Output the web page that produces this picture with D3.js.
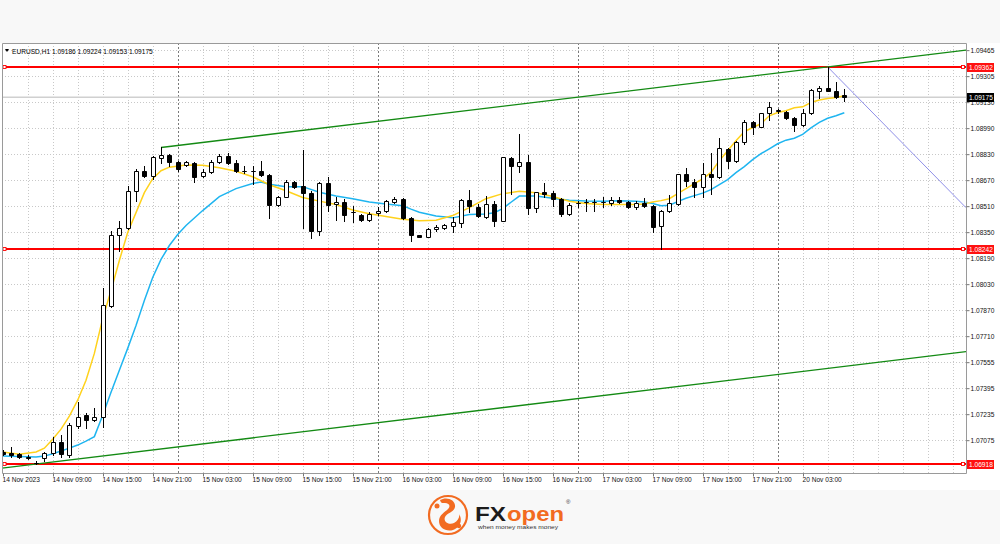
<!DOCTYPE html>
<html><head><meta charset="utf-8">
<script src="https://cdn.jsdelivr.net/npm/d3@7"></script>
<style>html,body{margin:0;padding:0;background:#f8f8f8;} svg{display:block;font-family:"Liberation Sans",Arial,sans-serif;}</style>
</head><body><svg id="c" width="1000" height="544"></svg>
<script>
// ---------- DATA ----------
const symbol = "EURUSD,H1";
const lastOHLC = [1.09186, 1.09224, 1.09153, 1.09175];
const opens = [1.06992,1.06985,1.06979,1.06961,1.06927,1.06953,1.06984,1.07055,1.06973,1.07151,
1.07219,1.07188,1.07208,1.07888,1.08328,1.08369,1.08596,1.08723,1.08693,1.08801,
1.08820,1.08774,1.08758,1.08771,1.08693,1.08713,1.08774,1.08815,1.08771,1.08723,
1.08723,1.08723,1.08699,1.08513,1.08564,1.08656,1.08631,1.08584,1.08355,1.08645,
1.08519,1.08533,1.08467,1.08453,1.08421,1.08461,1.08478,1.08533,1.08550,1.08433,
1.08328,1.08318,1.08363,1.08371,1.08381,1.08402,1.08543,1.08502,1.08441,1.08519,
1.08416,1.08801,1.08754,1.08774,1.08494,1.08590,1.08584,1.08550,1.08457,1.08523,
1.08529,1.08529,1.08529,1.08527,1.08543,1.08533,1.08498,1.08527,1.08505,1.08381,
1.08478,1.08519,1.08703,1.08656,1.08625,1.08703,1.08682,1.08857,1.08780,1.08897,
1.09024,1.08994,1.09078,1.09092,1.09087,1.09047,1.09006,1.09078,1.09215,1.09231,
1.09215,1.09186];
const highs = [1.07004,1.07024,1.06985,1.06973,1.06936,1.06993,1.07086,1.07096,1.07171,1.07300,
1.07233,1.07260,1.07999,1.08355,1.08416,1.08631,1.08734,1.08754,1.08815,1.08866,
1.08826,1.08785,1.08785,1.08774,1.08734,1.08789,1.08826,1.08830,1.08789,1.08754,
1.08754,1.08785,1.08702,1.08570,1.08666,1.08662,1.08849,1.08601,1.08651,1.08682,
1.08559,1.08550,1.08508,1.08457,1.08467,1.08502,1.08543,1.08559,1.08553,1.08441,
1.08330,1.08369,1.08390,1.08396,1.08437,1.08550,1.08605,1.08519,1.08570,1.08539,
1.08809,1.08805,1.08949,1.08822,1.08594,1.08645,1.08601,1.08556,1.08523,1.08539,
1.08550,1.08550,1.08559,1.08564,1.08559,1.08539,1.08539,1.08558,1.08515,1.08480,
1.08574,1.08705,1.08740,1.08672,1.08768,1.08830,1.08924,1.08863,1.08908,1.09035,
1.09030,1.09081,1.09143,1.09102,1.09092,1.09055,1.09102,1.09225,1.09245,1.09362,
1.09266,1.09224];
const lows = [1.06973,1.06963,1.06955,1.06949,1.06918,1.06938,1.06973,1.06963,1.06963,1.07143,
1.07143,1.07184,1.07147,1.07882,1.08232,1.08365,1.08539,1.08682,1.08672,1.08768,
1.08754,1.08723,1.08750,1.08651,1.08682,1.08707,1.08768,1.08764,1.08713,1.08707,
1.08642,1.08693,1.08433,1.08508,1.08559,1.08617,1.08373,1.08310,1.08330,1.08478,
1.08421,1.08416,1.08406,1.08416,1.08416,1.08451,1.08472,1.08523,1.08427,1.08293,
1.08314,1.08314,1.08355,1.08363,1.08344,1.08375,1.08467,1.08437,1.08433,1.08386,
1.08412,1.08580,1.08713,1.08457,1.08467,1.08559,1.08508,1.08447,1.08453,1.08502,
1.08478,1.08478,1.08502,1.08515,1.08527,1.08494,1.08488,1.08498,1.08344,1.08242,
1.08472,1.08515,1.08631,1.08564,1.08559,1.08580,1.08679,1.08740,1.08774,1.08887,
1.08949,1.08990,1.09037,1.09081,1.09041,1.08965,1.09000,1.09072,1.09170,1.09213,
1.09170,1.09153];
const closes = [1.06982,1.06973,1.06963,1.06958,1.06922,1.06987,1.07055,1.06979,1.07157,1.07208,
1.07192,1.07205,1.07894,1.08328,1.08369,1.08596,1.08723,1.08693,1.08809,1.08820,
1.08779,1.08734,1.08774,1.08686,1.08713,1.08779,1.08815,1.08771,1.08719,1.08720,
1.08720,1.08699,1.08513,1.08564,1.08656,1.08625,1.08584,1.08355,1.08645,1.08515,
1.08533,1.08451,1.08470,1.08421,1.08457,1.08478,1.08535,1.08550,1.08433,1.08330,
1.08318,1.08365,1.08379,1.08387,1.08406,1.08543,1.08504,1.08447,1.08519,1.08416,
1.08805,1.08754,1.08774,1.08494,1.08590,1.08580,1.08550,1.08457,1.08515,1.08524,
1.08530,1.08528,1.08530,1.08543,1.08531,1.08498,1.08523,1.08505,1.08379,1.08478,
1.08523,1.08703,1.08658,1.08625,1.08703,1.08686,1.08863,1.08780,1.08901,1.09024,
1.08994,1.09078,1.09116,1.09094,1.09047,1.09006,1.09081,1.09219,1.09231,1.09215,
1.09178,1.09175];
// fast (yellow) moving average: [bar index, value]
const maFast = [[0,1.06993],[2,1.06979],[4,1.06992],[5,1.07016],[6,1.07071],[7,1.07133],[8,1.07213],[9,1.07311],
[10,1.07434],[11,1.07599],[12,1.07814],[13,1.07986],[14,1.08171],[15,1.08343],[16,1.08465],[17,1.08588],
[18,1.08674],[19,1.08723],[20,1.08745],[22,1.08758],[24,1.08757],[26,1.08742],[28,1.08720],[30,1.08686],
[32,1.08637],[34,1.08600],[36,1.08558],[38,1.08536],[40,1.08515],[42,1.08481],[44,1.08459],[46,1.08441],
[48,1.08425],[50,1.08416],[52,1.08419],[54,1.08447],[56,1.08496],[58,1.08551],[60,1.08582],[62,1.08596],
[64,1.08588],[66,1.08564],[68,1.08535],[70,1.08521],[72,1.08515],[74,1.08515],[76,1.08515],[77,1.08518],
[78,1.08530],[79,1.08539],[80,1.08551],[81,1.08582],[82,1.08613],[83,1.08644],[84,1.08672],[85,1.08713],
[86,1.08785],[87,1.08846],[88,1.08908],[89,1.08963],[90,1.08989],[91,1.09012],[92,1.09061],[93,1.09081],
[94,1.09092],[95,1.09110],[96,1.09116],[97,1.09143],[98,1.09158],[99,1.09167],[100,1.09173],[101,1.09184]];
// slow (blue) moving average: [bar index, value]
const maSlow = [[0,1.06967],[2,1.06964],[4,1.06961],[5,1.06967],[6,1.06982],[7,1.06998],[8,1.07016],[9,1.07035],
[10,1.07059],[11,1.07087],[12,1.07219],[13,1.07360],[14,1.07495],[15,1.07630],[16,1.07771],[17,1.07925],
[18,1.08066],[19,1.08177],[20,1.08263],[21,1.08330],[22,1.08386],[24,1.08478],[26,1.08564],[28,1.08613],
[30,1.08644],[31,1.08653],[32,1.08640],[34,1.08625],[36,1.08625],[38,1.08591],[40,1.08567],[42,1.08550],
[44,1.08530],[46,1.08519],[48,1.08508],[49,1.08487],[50,1.08468],[52,1.08444],[54,1.08433],[56,1.08453],
[58,1.08457],[59,1.08465],[60,1.08490],[61,1.08529],[62,1.08567],[64,1.08567],[66,1.08554],[68,1.08542],
[70,1.08537],[72,1.08536],[74,1.08538],[76,1.08535],[77,1.08530],[78,1.08521],[79,1.08508],[80,1.08511],
[81,1.08533],[82,1.08554],[83,1.08570],[84,1.08585],[85,1.08607],[86,1.08637],[87,1.08668],[88,1.08711],
[89,1.08748],[90,1.08791],[91,1.08828],[92,1.08858],[93,1.08889],[94,1.08911],[95,1.08923],[96,1.08947],
[97,1.08987],[98,1.09021],[99,1.09046],[100,1.09061],[101,1.09080]];
const timeLabelIdx = [0,6,12,18,24,30,36,42,48,54,60,66,72,78,84,90,96];
const timeLabels = ["14 Nov 2023","14 Nov 09:00","14 Nov 15:00","14 Nov 21:00","15 Nov 03:00","15 Nov 09:00",
"15 Nov 15:00","15 Nov 21:00","16 Nov 03:00","16 Nov 09:00","16 Nov 15:00","16 Nov 21:00","17 Nov 03:00",
"17 Nov 09:00","17 Nov 15:00","17 Nov 21:00","20 Nov 03:00"];
const daySepIdx = [21,45,69,93];
const priceGrid = [1.09465,1.09305,1.09145,1.08985,1.08825,1.08665,1.08505,1.08345,1.08185,1.08025,1.07865,1.07705,1.07545,1.07385,1.07225,1.07065];
const priceLabels = ["1.09465","1.09305","1.09130","1.08990","1.08830","1.08670","1.08510","1.08350","1.08190","1.08030","1.07870","1.07710","1.07555","1.07395","1.07235","1.07075"];
const hLevels = [1.09362, 1.08242, 1.06918];
const hLevelLabels = ["1.09362","1.08242","1.06918"];
const channelTop = [[19,1.08866],[99,1.09362]];
const channelLowAnchor = [4,1.06918];
const downLine = [[99,1.09362],[115.6,1.08496]];

// ---------- LAYOUT ----------
const L = 2, R = 966, T = 43, B = 473.5;
const svg = d3.select("#c");
svg.append("rect").attr("x",0).attr("y",T).attr("width",1000).attr("height",490-T).attr("fill","#ffffff");

const x = d3.scaleLinear().domain([0,101]).range([2.7,844.3]);
const y = d3.scaleLinear().domain([1.06860,1.09509]).range([B,T]);
const font = 6.6;

svg.append("defs").append("clipPath").attr("id","clip").append("rect")
  .attr("x",L).attr("y",T).attr("width",R-L).attr("height",B-T);
const plot = svg.append("g").attr("clip-path","url(#clip)");

// grid
const gridIdx = d3.range(3,116,3);
plot.selectAll(".vg").data(gridIdx.filter(i=>!daySepIdx.includes(i))).join("line")
  .attr("x1",i=>Math.round(x(i))+0.5).attr("x2",i=>Math.round(x(i))+0.5)
  .attr("y1",T).attr("y2",B).attr("stroke","#c8c8c8").attr("stroke-dasharray","1,2");
plot.selectAll(".hg").data(priceGrid).join("line")
  .attr("x1",L).attr("x2",R).attr("y1",d=>Math.round(y(d))+0.5).attr("y2",d=>Math.round(y(d))+0.5)
  .attr("stroke","#c8c8c8").attr("stroke-dasharray","1,2");
plot.selectAll(".ds").data(daySepIdx).join("line")
  .attr("x1",i=>Math.round(x(i))+0.5).attr("x2",i=>Math.round(x(i))+0.5)
  .attr("y1",T).attr("y2",B).attr("stroke","#7a7a7a").attr("stroke-dasharray","2,2");

// current price line
plot.append("line").attr("x1",L).attr("x2",R)
  .attr("y1",y(lastOHLC[3])).attr("y2",y(lastOHLC[3])).attr("stroke","#d0d0d0").attr("stroke-width",1.5);

// horizontal levels
hLevels.forEach(v=>{
  const yy = Math.round(y(v));
  plot.append("line").attr("x1",L).attr("x2",R).attr("y1",yy).attr("y2",yy).attr("stroke","#ff0000").attr("stroke-width",1.8);
  [L+2.5, R-3].forEach(px=>plot.append("rect").attr("x",px-1.5).attr("y",yy-1.5).attr("width",3).attr("height",3)
     .attr("fill","#fff").attr("stroke","#ff0000").attr("stroke-width",0.9));
});

// trend channel
const slope = (channelTop[1][1]-channelTop[0][1])/(channelTop[1][0]-channelTop[0][0]);
const iR = x.invert(R), iL = x.invert(L);
plot.append("line").attr("x1",x(channelTop[0][0])).attr("y1",y(channelTop[0][1]))
  .attr("x2",x(iR)).attr("y2",y(channelTop[0][1]+slope*(iR-channelTop[0][0])))
  .attr("stroke","#138a13").attr("stroke-width",1.3);
plot.append("line").attr("x1",x(iL)).attr("y1",y(channelLowAnchor[1]+slope*(iL-channelLowAnchor[0])))
  .attr("x2",x(iR)).attr("y2",y(channelLowAnchor[1]+slope*(iR-channelLowAnchor[0])))
  .attr("stroke","#138a13").attr("stroke-width",1.3);
plot.append("line").attr("x1",x(downLine[0][0])).attr("y1",y(downLine[0][1]))
  .attr("x2",x(downLine[1][0])).attr("y2",y(downLine[1][1]))
  .attr("stroke","#8f8fe8").attr("stroke-width",1);

// moving averages
const line = d3.line().x(d=>x(d[0])).y(d=>y(d[1]));
plot.append("path").attr("d",line(maSlow)).attr("fill","none").attr("stroke","#1fb5f0").attr("stroke-width",1.5);
plot.append("path").attr("d",line(maFast)).attr("fill","none").attr("stroke","#ffd21c").attr("stroke-width",1.5);

// candles
const bars = d3.range(opens.length).map(i=>({i,o:opens[i],h:highs[i],l:lows[i],c:closes[i]}));
const cg = plot.append("g");
bars.forEach(b=>{
  const c = Math.round(x(b.i));
  cg.append("line").attr("x1",c+0.5).attr("x2",c+0.5).attr("y1",Math.round(y(b.h))).attr("y2",Math.round(y(b.l))+1)
    .attr("stroke","#000").attr("stroke-width",1);
  const t = Math.round(y(Math.max(b.o,b.c)))+0.5, bt = Math.round(y(Math.min(b.o,b.c)))+0.5;
  const bull = b.c>b.o;
  cg.append("path").attr("d",`M${c-1.5},${t}H${c+2.5}V${bt}H${c-1.5}Z`)
    .attr("fill",bull?"#fff":"#000").attr("stroke","#000").attr("stroke-width",1);
});

// frame
svg.append("path").attr("d",`M${L+0.5},${T+0.5}H${R+0.5}V${B}H${L+0.5}Z`).attr("fill","none").attr("stroke","#9a9a9a").attr("stroke-width",1);

// header
svg.append("path").attr("d","M5,49L9,49L7,52Z").attr("fill","#000");
svg.append("text").attr("x",12).attr("y",53.5).attr("font-size",font).attr("fill","#000")
  .text(symbol+"  "+lastOHLC.map(v=>v.toFixed(5)).join(" "));

// axes
const ya = svg.append("g").attr("transform",`translate(${R+0.5},0)`)
  .call(d3.axisRight(y).tickValues(priceGrid).tickFormat((d,i)=>priceLabels[i]).tickSize(3).tickPadding(1));
ya.select(".domain").remove();
ya.selectAll("text").attr("font-size",font).attr("font-family","Liberation Sans, Arial, sans-serif").attr("fill","#111");
ya.selectAll("line").attr("stroke","#777");

const xa = svg.append("g").attr("transform",`translate(0,${B})`)
  .call(d3.axisBottom(x).tickValues(timeLabelIdx).tickFormat((d,i)=>timeLabels[i]).tickSize(3).tickPadding(1));
xa.select(".domain").remove();
xa.selectAll(".tick").attr("transform",d=>`translate(${Math.round(x(d))+0.5},0)`);
xa.selectAll("text").attr("font-size",font).attr("font-family","Liberation Sans, Arial, sans-serif").attr("fill","#111").attr("text-anchor","start").attr("x",-1);
xa.selectAll("line").attr("stroke","#777");

// price tags
function tag(v, txt, bg){
  const yy = Math.round(y(v))+0.5;
  svg.append("rect").attr("x",R+1).attr("y",yy-4.5).attr("width",27).attr("height",9).attr("fill",bg);
  svg.append("text").attr("x",R+3).attr("y",yy+2.3).attr("font-size",font).attr("fill","#fff").text(txt);
}
hLevels.forEach((v,i)=>tag(v,hLevelLabels[i],"#ff1010"));
tag(lastOHLC[3], lastOHLC[3].toFixed(5), "#000");

// logo
const lg = svg.append("g");
const orange = "#f26b21";
lg.append("circle").attr("cx",448).attr("cy",515).attr("r",19).attr("fill","none").attr("stroke",orange).attr("stroke-width",2.2);
lg.append("path").attr("d","M440,500 c7,-4 16,0 15,7 c-1,5 -8,6 -10,10 c-2,5 4,8 9,6 c4,-2 6,-6 5,-9 c4,6 1,14 -6,16 c-7,2 -14,-2 -14,-9 c0,-6 6,-9 9,-12 c3,-3 1,-6 -3,-6 c-2,0 -4,1 -5,-3 z").attr("fill",orange);
lg.append("circle").attr("cx",437).attr("cy",506).attr("r",2.5).attr("fill",orange);
lg.append("circle").attr("cx",459).attr("cy",526).attr("r",2.2).attr("fill",orange);
lg.append("text").attr("x",475).attr("y",521).attr("font-size",20).attr("font-weight","bold").attr("fill","#1b1b1b")
  .attr("textLength",31).attr("lengthAdjust","spacingAndGlyphs").text("FX");
lg.append("text").attr("x",507).attr("y",521).attr("font-size",20).attr("font-weight","bold").attr("fill",orange)
  .attr("textLength",57).attr("lengthAdjust","spacingAndGlyphs").text("open");
lg.append("text").attr("x",566).attr("y",504).attr("font-size",6).attr("fill","#333").text("®");
lg.append("text").attr("x",478).attr("y",528.5).attr("font-size",4.6).attr("fill","#333")
  .attr("textLength",80).attr("lengthAdjust","spacingAndGlyphs").text("when money makes money");
</script></body></html>
